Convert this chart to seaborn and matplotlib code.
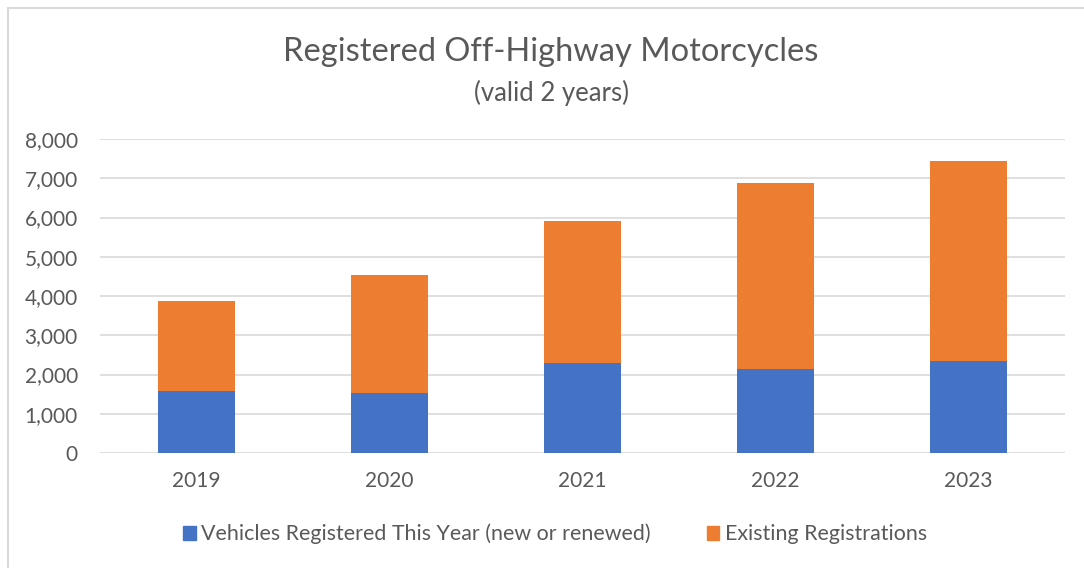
import matplotlib.pyplot as plt
import matplotlib.patches as mpatches
import seaborn as sns
import pandas as pd
from matplotlib.ticker import FuncFormatter

years = ["2019", "2020", "2021", "2022", "2023"]
registered_this_year = [1575, 1534, 2281, 2145, 2342]
existing_registrations = [2308, 2993, 3627, 4727, 5099]

BLUE = "#4472c4"
ORANGE = "#ed7d31"
TEXT = "#595959"
GRID = "#d9d9d9"

sns.set_theme(style="white")
plt.rcParams["font.family"] = ["Lato", "DejaVu Sans"]

df = pd.DataFrame({
    "year": years,
    "new": registered_this_year,
    "existing": existing_registrations,
})
df["total"] = df["new"] + df["existing"]

fig = plt.figure(figsize=(10.84, 5.68), dpi=100)
ax = fig.add_axes([100 / 1084, 115 / 568, 965 / 1084, 314 / 568])

# stacked: orange total behind, blue on the bottom
sns.barplot(data=df, x="year", y="total", color=ORANGE, width=0.4,
            saturation=1, linewidth=0, ax=ax, zorder=3)
sns.barplot(data=df, x="year", y="new", color=BLUE, width=0.4,
            saturation=1, linewidth=0, ax=ax, zorder=4)

ax.set_ylim(0, 8000)
ax.set_yticks(range(0, 8001, 1000))
ax.yaxis.set_major_formatter(FuncFormatter(lambda v, p: f"{int(v):,}"))
ax.grid(axis="y", color=GRID, linewidth=1.2, zorder=0)
ax.set_axisbelow(True)
for s in ax.spines.values():
    s.set_visible(False)
ax.set_xlabel("")
ax.set_ylabel("")
ax.tick_params(axis="both", length=0, labelsize=15, colors=TEXT)
ax.tick_params(axis="y", pad=16)
ax.tick_params(axis="x", pad=13)

fig.text(551 / 1084, 1 - 52 / 568, "Registered Off-Highway Motorcycles",
         ha="center", va="center", fontsize=23.5, color=TEXT)
fig.text(552 / 1084, 1 - 93 / 568, "(valid 2 years)",
         ha="center", va="center", fontsize=18.5, color=TEXT)

handles = [mpatches.Patch(color=BLUE, label="Vehicles Registered This Year (new or renewed)"),
           mpatches.Patch(color=ORANGE, label="Existing Registrations")]
fig.legend(handles=handles, loc="center", bbox_to_anchor=(555 / 1084, 1 - 534 / 568),
           ncol=2, frameon=False, fontsize=15.4, labelcolor=TEXT,
           handlelength=0.6, handleheight=0.6, handletextpad=0.25, columnspacing=2.6)

# chart border like the spreadsheet frame
fig.patches.append(mpatches.Rectangle((8 / 1084, -0.1), 1.2, 1.1 - 8 / 568,
                                      transform=fig.transFigure, fill=False,
                                      edgecolor=GRID, linewidth=1.5))

fig.savefig("out.png", dpi=100)
